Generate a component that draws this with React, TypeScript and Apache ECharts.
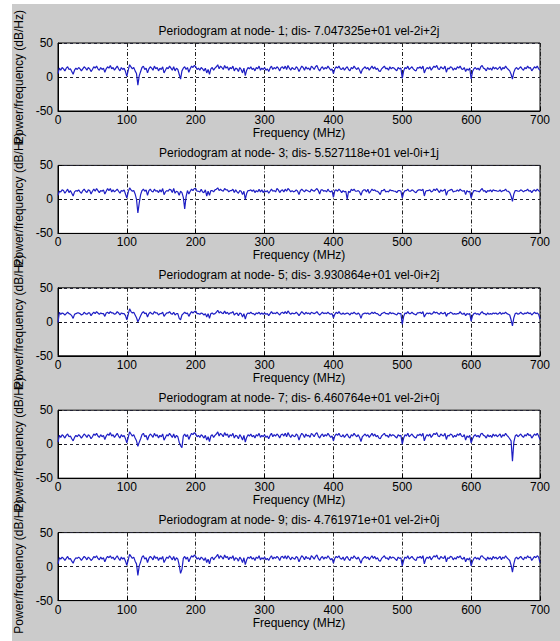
import React, { useEffect, useRef } from "react";
import * as echarts from "echarts";

// Frequency bins: 0..700 MHz, one value every 2 MHz (351 bins)
const FREQ_STEP = 2;
const X_TICKS = [0, 100, 200, 300, 400, 500, 600, 700];
const Y_TICKS = [-50, 0, 50];

const titles = [
  "Periodogram at node- 1; dis- 7.047325e+01 vel-2i+2j",
  "Periodogram at node- 3; dis- 5.527118e+01 vel-0i+1j",
  "Periodogram at node- 5; dis- 3.930864e+01 vel-0i+2j",
  "Periodogram at node- 7; dis- 6.460764e+01 vel-2i+0j",
  "Periodogram at node- 9; dis- 4.761971e+01 vel-2i+0j",
];

const node1 = [
  5, 13, 10, 14, 12, 9, 13, 15, 11, 12, 8, 4, 10, 13, 11, 14, 12, 9, 12, 15, 13, 10, 14, 12, 8, 11, 15, 13, 16, 12, 10, 14, 11, 13, 7, 12, 15, 13, 17, 12, 14, 10, 13, 16, 12, 9, 14, 11, 13, 8,
  1, 10, 18, 15, 12, 14, 9, 5, -12, 2, 8, 14, 16, 11, 13, 6, 12, 15, 13, 10, 16, 12, 14, 9, 13, 11, 15, 6, 10, 14, 12, 16, 13, 10, 15, 9, 13, 11, 4, -3, 9, 13, 15, 11, 14, 7, 12, 16, 14, 17,
  15, 11, 13, 10, 14, 12, 9, 13, 6, 11, 4, 12, 14, 10, 13, 15, 18, 12, 16, 14, 11, 17, 13, 15, 10, 14, 12, 16, 9, 13, 12, 8, 14, 11, 6, 13, 2, 10, 14, 12, 15, 11, 13, 9, 14, 12, 16, 10, 13, 11,
  14, 10, 12, 8, 13, 16, 11, 14, 12, 15, 13, 9, 14, 15, 12, 16, 11, 17, 13, 10, 14, 12, 11, 15, 13, 8, 12, 16, 14, 10, 15, 12, 13, 10, 16, 14, 11, 15, 17, 12, 9, 13, 15, 11, 14, 12, 16, 13, 10, 12,
  5, 12, 15, 13, 16, 12, 11, 14, 10, 13, 15, 11, 9, 14, 12, 16, 13, 11, 14, 10, 5, 11, 13, 15, 12, 14, 10, 13, 16, 12, 15, 11, 13, 9, 8, 12, 14, 16, 12, 13, 10, 15, 12, 14, 13, 11, 9, 14, 12, 13,
  -2, 9, 14, 12, 16, 11, 13, 15, 12, 10, 9, 14, 13, 15, 12, 16, 6, 11, 14, 12, 15, 10, 13, 16, 14, 17, 12, 11, 15, 13, 12, 16, 7, 13, 12, 15, 14, 10, 13, 11, 15, 13, 16, 12, 11, 14, 8, 12, 10, 13,
  -3, 8, 12, 14, 11, 13, 10, 15, 17, 13, 12, 9, 14, 11, 13, 10, 15, 12, 14, 11, 13, 15, 10, 14, 12, 16, 13, 11, 9, 4, -3, 7, 12, 14, 11, 13, 15, 12, 10, 14, 12, 16, 13, 14, 9, 12, 15, 13, 16, 12,
  10,
];

const node3 = [
  6, 12, 11, 14, 13, 9, 12, 15, 10, 13, 9, 5, 11, 13, 12, 14, 11, 9, 13, 15, 12, 10, 14, 13, 8, 12, 15, 12, 16, 13, 10, 13, 12, 14, 8, 12, 16, 13, 16, 11, 14, 11, 13, 15, 12, 9, 13, 12, 14, 8,
  2, 11, 17, 14, 12, 13, 8, 0, -20, -5, 7, 13, 15, 12, 14, 6, 13, 15, 12, 11, 15, 12, 13, 10, 14, 11, 16, 7, 11, 13, 12, 15, 14, 10, 16, 9, 12, 11, 6, 12, 10, 3, -14, 4, 13, 8, 12, 15, 13, 16,
  16, 12, 12, 11, 15, 11, 10, 14, 5, 12, 6, 13, 13, 11, 14, 15, 17, 13, 15, 13, 12, 16, 14, 14, 11, 13, 13, 15, 10, 14, 11, 9, 13, 12, 7, 12, 0, 9, 13, 13, 14, 12, 14, 10, 13, 11, 15, 11, 14, 10,
  13, 11, 13, 9, 12, 15, 12, 13, 11, 16, 14, 10, 13, 14, 11, 15, 12, 16, 14, 11, 13, 11, 12, 14, 12, 7, 13, 15, 13, 11, 14, 13, 12, 11, 15, 13, 12, 14, 16, 13, 8, 14, 14, 12, 13, 11, 15, 12, 11, 13,
  3, 13, 14, 12, 15, 13, 10, 13, 11, 12, 0, 12, 10, 15, 13, 15, 12, 12, 13, 11, 6, 12, 14, 14, 11, 15, 9, 12, 15, 13, 14, 12, 12, 10, 7, 13, 13, 15, 11, 12, 11, 14, 13, 13, 12, 12, 10, 13, 13, 12,
  2, 10, 13, 13, 15, 12, 12, 14, 13, 11, 10, 13, 14, 14, 13, 15, 5, 12, 13, 13, 14, 11, 12, 15, 13, 16, 13, 10, 14, 12, 13, 15, 6, 12, 13, 14, 15, 11, 12, 12, 14, 12, 15, 13, 12, 13, 7, 13, 11, 12,
  2, 9, 13, 13, 12, 12, 11, 14, 16, 12, 13, 10, 13, 12, 14, 11, 14, 13, 13, 12, 12, 14, 11, 13, 13, 15, 12, 12, 10, 5, -3, 8, 13, 13, 12, 12, 14, 13, 11, 13, 13, 15, 12, 13, 10, 13, 14, 12, 15, 13,
  11,
];

const node5 = [
  -1, 14, 11, 13, 12, 10, 12, 14, 12, 11, 9, 5, 11, 12, 13, 13, 12, 10, 11, 14, 12, 11, 13, 13, 9, 12, 14, 12, 15, 13, 11, 13, 12, 12, 8, 13, 14, 12, 15, 13, 13, 11, 12, 15, 13, 10, 13, 12, 12, 9,
  3, 11, 19, 15, 13, 14, 10, 6, 0, 4, 9, 13, 15, 12, 13, 7, 12, 14, 12, 11, 15, 13, 13, 10, 12, 12, 14, 8, 11, 13, 13, 15, 12, 11, 14, 10, 12, 12, 5, 3, 10, 12, 14, 12, 13, 8, 12, 15, 13, 15,
  16, 12, 12, 11, 13, 12, 10, 12, 7, 12, 5, 12, 13, 11, 12, 14, 17, 13, 15, 13, 12, 16, 12, 14, 11, 13, 13, 15, 10, 12, 13, 9, 13, 12, 7, 12, 4, 11, 13, 12, 14, 12, 12, 10, 13, 12, 14, 11, 13, 11,
  13, 11, 12, 9, 12, 15, 12, 13, 12, 14, 12, 10, 13, 14, 12, 15, 12, 16, 13, 11, 13, 12, 12, 14, 12, 9, 12, 15, 13, 11, 14, 12, 13, 11, 14, 13, 12, 13, 15, 12, 10, 12, 14, 12, 13, 12, 14, 12, 11, 12,
  6, 11, 14, 12, 15, 12, 11, 13, 11, 12, 13, 12, 10, 13, 12, 14, 12, 11, 13, 11, 5, 11, 12, 13, 12, 13, 11, 12, 14, 12, 14, 12, 12, 10, 9, 12, 13, 14, 12, 12, 11, 14, 12, 13, 12, 11, 10, 13, 12, 12,
  -4, 8, 13, 12, 15, 12, 12, 14, 12, 11, 10, 13, 13, 14, 12, 15, 7, 11, 13, 12, 13, 11, 12, 15, 13, 14, 12, 11, 14, 12, 12, 14, 8, 12, 12, 14, 13, 11, 12, 11, 12, 12, 15, 12, 11, 13, 9, 12, 11, 12,
  1, 9, 12, 13, 11, 12, 10, 13, 15, 12, 12, 10, 13, 11, 12, 11, 13, 12, 13, 11, 12, 14, 11, 13, 12, 14, 12, 11, 10, 3, -6, 6, 12, 13, 11, 12, 14, 12, 11, 13, 12, 14, 12, 13, 10, 12, 14, 12, 13, 11,
  4,
];

const node7 = [
  3, 13, 10, 14, 12, 9, 13, 15, 11, 12, 8, 5, 10, 13, 11, 14, 12, 9, 12, 15, 13, 10, 14, 12, 8, 11, 15, 13, 16, 12, 10, 14, 11, 13, 7, 12, 15, 13, 17, 12, 14, 10, 13, 16, 12, 9, 14, 11, 13, 8,
  2, 10, 18, 15, 12, 14, 9, 5, -3, 3, 8, 14, 16, 11, 13, 6, 12, 15, 13, 10, 16, 12, 14, 9, 13, 11, 15, 6, 10, 14, 12, 16, 13, 10, 15, 9, 13, 11, 3, -2, -5, 12, 15, 11, 14, 7, 12, 16, 14, 17,
  15, 11, 13, 10, 14, 12, 9, 13, 6, 11, 4, 12, 14, 10, 13, 15, 18, 12, 16, 14, 11, 17, 13, 15, 10, 14, 12, 16, 9, 13, 12, 8, 14, 11, 6, 13, 3, 10, 14, 12, 15, 11, 13, 9, 14, 12, 16, 10, 13, 11,
  14, 10, 12, 8, 13, 16, 11, 14, 12, 15, 13, 9, 14, 15, 12, 16, 11, 17, 13, 10, 14, 12, 11, 15, 13, 6, 12, 16, 14, 10, 15, 12, 13, 10, 16, 14, 11, 15, 17, 12, 9, 13, 15, 11, 14, 12, 16, 13, 10, 12,
  5, 12, 15, 13, 16, 12, 11, 14, 10, 13, 15, 11, 9, 14, 12, 16, 13, 11, 14, 10, 4, 11, 13, 15, 12, 14, 10, 13, 16, 12, 15, 11, 13, 9, 8, 12, 14, 16, 12, 13, 10, 15, 12, 14, 13, 11, 9, 14, 12, 13,
  0, 9, 14, 12, 16, 11, 13, 15, 12, 10, 9, 14, 13, 15, 12, 16, 5, 11, 14, 12, 15, 10, 13, 16, 14, 17, 12, 11, 15, 13, 12, 16, 7, 13, 12, 15, 14, 10, 13, 11, 15, 13, 16, 12, 11, 14, 6, 12, 10, 13,
  2, 8, 12, 14, 11, 13, 10, 15, 16, 13, 12, 9, 14, 11, 13, 10, 15, 12, 14, 11, 13, 15, 10, 14, 12, 16, 13, 11, 8, 5, -25, 3, 12, 14, 11, 13, 15, 12, 10, 14, 12, 16, 13, 14, 9, 12, 15, 13, 16, 12,
  7,
];

const node9 = [
  4, 13, 11, 14, 12, 9, 12, 15, 11, 12, 8, 5, 10, 13, 12, 14, 12, 9, 12, 15, 13, 10, 14, 12, 9, 11, 15, 13, 16, 12, 10, 14, 11, 13, 7, 12, 15, 13, 16, 12, 14, 10, 13, 16, 12, 9, 14, 11, 13, 8,
  2, 10, 18, 15, 12, 14, 8, 4, -13, 1, 7, 14, 16, 11, 13, 6, 12, 15, 13, 10, 16, 12, 14, 9, 13, 11, 15, 6, 10, 14, 12, 16, 13, 10, 15, 9, 13, 11, 2, -10, -4, 12, 15, 11, 14, 7, 12, 16, 14, 17,
  15, 11, 13, 10, 14, 12, 9, 13, 6, 11, 4, 12, 14, 10, 13, 15, 18, 12, 16, 14, 11, 17, 13, 15, 10, 14, 12, 16, 9, 13, 12, 8, 14, 11, 6, 13, 3, 10, 14, 12, 15, 11, 13, 9, 14, 12, 16, 10, 13, 11,
  14, 10, 12, 9, 13, 16, 11, 14, 12, 15, 13, 9, 14, 15, 12, 16, 11, 16, 13, 10, 14, 12, 11, 15, 13, 7, 12, 16, 14, 10, 15, 12, 13, 10, 16, 14, 11, 15, 17, 12, 9, 13, 15, 11, 14, 12, 16, 13, 10, 12,
  5, 12, 15, 13, 16, 12, 11, 14, 9, 13, 15, 11, 9, 14, 12, 16, 13, 11, 14, 10, 5, 11, 13, 15, 12, 14, 10, 13, 16, 12, 15, 11, 13, 9, 8, 12, 14, 16, 12, 13, 10, 15, 12, 14, 13, 11, 9, 14, 12, 13,
  1, 9, 14, 12, 16, 11, 13, 15, 12, 10, 9, 14, 13, 15, 12, 16, 4, 11, 14, 12, 15, 10, 13, 16, 14, 17, 12, 11, 15, 13, 12, 16, 7, 13, 12, 15, 14, 10, 13, 11, 15, 13, 16, 12, 11, 14, 7, 12, 10, 13,
  1, 8, 12, 14, 11, 13, 10, 15, 16, 13, 12, 9, 14, 11, 13, 10, 15, 12, 14, 11, 13, 15, 10, 14, 12, 16, 13, 11, 9, 2, -8, 4, 12, 14, 11, 13, 15, 12, 10, 14, 12, 16, 13, 14, 9, 12, 15, 13, 16, 14,
  6,
];

const seriesValues = [node1, node3, node5, node7, node9];

const FONT = "'Liberation Sans', Arial, Helvetica, sans-serif";

export default function App() {
  const ref = useRef<HTMLDivElement>(null);

  useEffect(() => {
    if (!ref.current) return;
    const chart = echarts.init(ref.current, null, { renderer: "svg" });

    const GRID_LEFT = 46;
    const GRID_WIDTH = 482;
    const GRID_TOP0 = 39;
    const GRID_STEP = 122.4;
    const GRID_H = 68;

    const grids = seriesValues.map((_, i) => ({
      left: GRID_LEFT,
      width: GRID_WIDTH,
      top: GRID_TOP0 + GRID_STEP * i,
      height: GRID_H,
      containLabel: false,
      outerBoundsMode: "none",
      show: true,
      backgroundColor: "#ffffff",
      borderColor: "#000000",
      borderWidth: 1,
    }));

    const xAxes = seriesValues.map((_, i) => ({
      type: "value",
      gridIndex: i,
      min: X_TICKS[0],
      max: X_TICKS[X_TICKS.length - 1],
      interval: 100,
      name: "Frequency (MHz)",
      nameLocation: "middle",
      nameGap: 16,
      nameTextStyle: { fontSize: 12, color: "#000", fontFamily: FONT },
      axisLine: { show: true, onZero: false, lineStyle: { color: "#000", width: 1 } },
      axisTick: { show: true, inside: true, length: 4, lineStyle: { color: "#000" } },
      axisLabel: { fontSize: 12, color: "#000", margin: 3, fontFamily: FONT },
      splitLine: { show: true, lineStyle: { color: "#222", type: [4, 2, 1, 2], width: 1 } },
    }));

    const yAxes = seriesValues.map((_, i) => ({
      type: "value",
      gridIndex: i,
      min: Y_TICKS[0],
      max: Y_TICKS[Y_TICKS.length - 1],
      interval: 50,
      name: "Power/frequency (dB/Hz)",
      nameLocation: "middle",
      nameRotate: 90,
      nameGap: 26,
      nameTextStyle: { fontSize: 12, color: "#000", fontFamily: FONT },
      axisLine: { show: true, onZero: false, lineStyle: { color: "#000", width: 1 } },
      axisTick: { show: true, inside: true, length: 4, lineStyle: { color: "#000" } },
      axisLabel: { fontSize: 12, color: "#000", margin: 5, fontFamily: FONT },
      splitLine: { show: true, lineStyle: { color: "#223", type: [3, 3], width: 1 } },
    }));

    const series = seriesValues.map((vals, i) => ({
      type: "line",
      xAxisIndex: i,
      yAxisIndex: i,
      symbol: "none",
      showSymbol: false,
      lineStyle: { color: "#1e1ec4", width: 1.2 },
      data: vals.map((v, k) => [k * FREQ_STEP, v]),
      clip: true,
      z: 3,
    }));

    const graphics = titles.map((t, i) => ({
      type: "text",
      x: GRID_LEFT + GRID_WIDTH / 2,
      y: GRID_TOP0 + GRID_STEP * i - 12.5,
      style: {
        text: t,
        font: `12px ${FONT}`,
        fill: "#000",
        textAlign: "center",
        textVerticalAlign: "middle",
      },
    }));

    chart.setOption({
      animation: false,
      backgroundColor: "#cbcbcb",
      grid: grids,
      xAxis: xAxes,
      yAxis: yAxes,
      series,
      graphic: graphics,
    });

    return () => chart.dispose();
  }, []);

  return (
    <div
      style={{
        position: "absolute",
        left: 0,
        top: 0,
        width: 560,
        height: 641,
        background: "#ffffff",
        overflow: "hidden",
      }}
    >
      <div
        ref={ref}
        style={{ position: "absolute", left: 12, top: 4, width: 548, height: 637 }}
      />
    </div>
  );
}
